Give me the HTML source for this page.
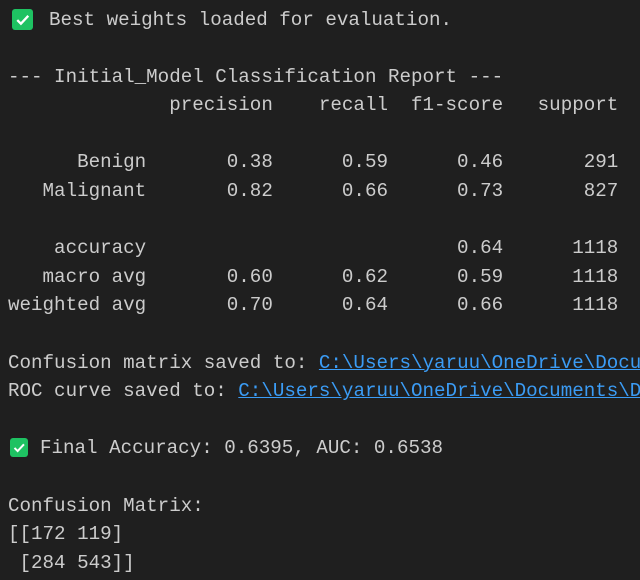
<!DOCTYPE html>
<html><head><meta charset="utf-8"><style>
html,body{margin:0;padding:0;background:#1f1f1f;width:640px;height:580px;overflow:hidden}
#wrap{position:absolute;left:0;top:0;width:640px;height:580px;overflow:hidden}
pre{position:absolute;left:8px;top:5.5px;width:632px;overflow:hidden;margin:0;font-family:"Liberation Mono",monospace;font-size:19.2px;line-height:28.6px;color:#cccccc;white-space:pre}
.ln{display:block;height:28.6px;overflow:hidden}
a{color:#3b9cf5;text-decoration:underline}
.chk{display:inline-block;vertical-align:top;position:relative;height:28.6px}
.box{position:absolute;background:#1ec262;border-radius:3px}
.box svg{position:absolute;left:0;top:0;width:100%;height:100%}
</style></head><body>
<div id="wrap">
<pre><span class="ln"><span class="chk" style="width:41px"><span class="box" style="left:4px;top:3px;width:21px;height:21px"><svg viewBox="0 0 20 20"><path d="M5 10.5l3.5 3.5 7-7.5" fill="none" stroke="#fff" stroke-width="2.2"/></svg></span></span>Best weights loaded for evaluation.</span><span class="ln"> </span><span class="ln">--- Initial_Model Classification Report ---</span><span class="ln">              precision    recall  f1-score   support</span><span class="ln"> </span><span class="ln">      Benign       0.38      0.59      0.46       291</span><span class="ln">   Malignant       0.82      0.66      0.73       827</span><span class="ln"> </span><span class="ln">    accuracy                           0.64      1118</span><span class="ln">   macro avg       0.60      0.62      0.59      1118</span><span class="ln">weighted avg       0.70      0.64      0.66      1118</span><span class="ln"> </span><span class="ln">Confusion matrix saved to: <a>C:\Users\yaruu\OneDrive\Docu</a></span><span class="ln">ROC curve saved to: <a>C:\Users\yaruu\OneDrive\Documents\D</a></span><span class="ln"> </span><span class="ln"><span class="chk" style="width:32px"><span class="box" style="left:2px;top:4px;width:18px;height:19px"><svg viewBox="0 0 20 20"><path d="M5 10.5l3.5 3.5 7-7.5" fill="none" stroke="#fff" stroke-width="2.2"/></svg></span></span>Final Accuracy: 0.6395, AUC: 0.6538</span><span class="ln"> </span><span class="ln">Confusion Matrix:</span><span class="ln">[[172 119]</span><span class="ln"> [284 543]]</span></pre>
</div>
</body></html>
